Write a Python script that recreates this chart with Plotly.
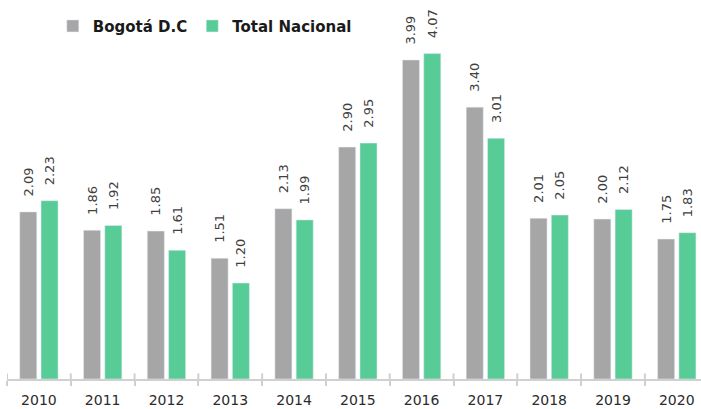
import plotly.graph_objects as go

years = ["2010", "2011", "2012", "2013", "2014", "2015", "2016", "2017", "2018", "2019", "2020"]
bogota = [2.09, 1.86, 1.85, 1.51, 2.13, 2.90, 3.99, 3.40, 2.01, 2.00, 1.75]
nacional = [2.23, 1.92, 1.61, 1.20, 1.99, 2.95, 4.07, 3.01, 2.05, 2.12, 1.83]

FONT = "DejaVu Sans"
GRAY = "#a6a6a6"
GREEN = "#58cc96"
LABEL = "#404040"
PAD = "\u00a0" * 3  # keeps the value labels a little above the bar tops


def labels(vals):
    return [f"{PAD}{v:.2f}" for v in vals]


fig = go.Figure()
fig.add_trace(go.Bar(
    x=years, y=bogota, name="Bogotá D.C", marker_color=GRAY,
    text=labels(bogota), textposition="outside", textangle=-90,
    constraintext="none", hoverinfo="x+y",
    textfont=dict(family=FONT, size=13, color=LABEL), cliponaxis=False,
))
fig.add_trace(go.Bar(
    x=years, y=nacional, name="Total Nacional", marker_color=GREEN,
    text=labels(nacional), textposition="outside", textangle=-90,
    constraintext="none", hoverinfo="x+y",
    textfont=dict(family=FONT, size=13, color=LABEL), cliponaxis=False,
))

# small upward part of the crossing tick marks at category boundaries
for i in range(len(years) + 1):
    fig.add_shape(type="line", xref="x", yref="y", x0=i - 0.5, x1=i - 0.5,
                  y0=0, y1=0.07, line=dict(color="#d0d0d0", width=2), layer="below")

fig.update_layout(
    width=701, height=409,
    margin=dict(l=7, r=0, t=0, b=30),
    plot_bgcolor="white", paper_bgcolor="white",
    barmode="group", bargap=0.332, bargroupgap=0.2,
    font=dict(family=FONT, color="#262626"),
    showlegend=True,
    legend=dict(orientation="h", x=0.066, xanchor="left", y=0.931, yanchor="middle",
                font=dict(family=FONT, size=15, color="#1a1a1a", weight="bold"),
                itemwidth=30, bgcolor="rgba(0,0,0,0)", traceorder="normal"),
    uniformtext=dict(mode=False),
)
fig.update_xaxes(
    type="category", range=[-0.5, 10.38],
    showline=True, linecolor="#d0d0d0", linewidth=2,
    ticks="outside", tickson="boundaries", ticklen=5, tickcolor="#d0d0d0", tickwidth=2,
    ticklabelstandoff=7,
    tickfont=dict(family=FONT, size=14, color="#2b2b2b"),
    showgrid=False, zeroline=False,
)
fig.update_yaxes(range=[0, 4.74], visible=False, showgrid=False, zeroline=False)

fig.write_html("out.html", config={"displayModeBar": False},
               post_script="document.body.style.margin='0';")
